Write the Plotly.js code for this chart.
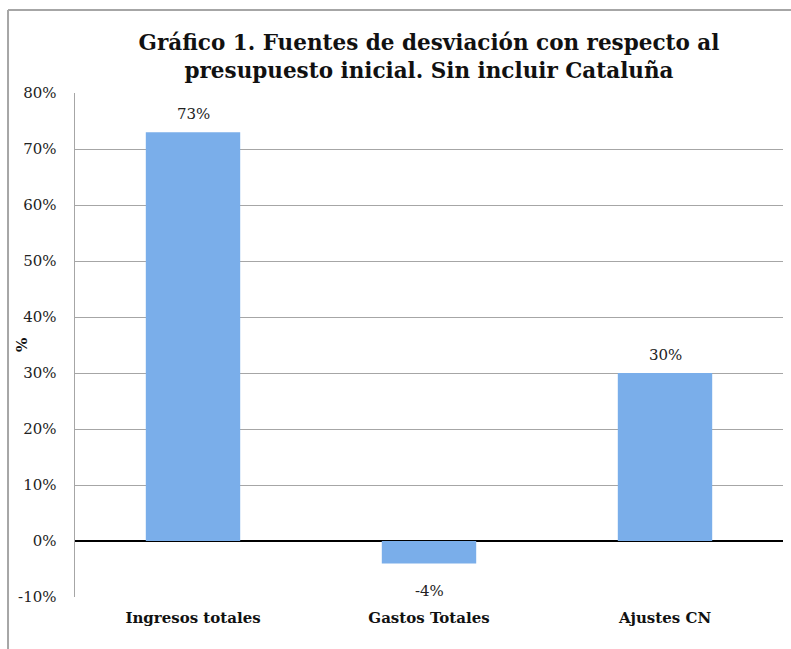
<!DOCTYPE html>
<html>
<head>
<meta charset="utf-8">
<script src="https://cdn.plot.ly/plotly-3.0.1.min.js"></script>
<style>
html,body{margin:0;padding:0;background:#fff;}
#chart{width:791px;height:649px;}
</style>
</head>
<body>
<div id="chart"></div>
<script>
const categories = ["Ingresos totales", "Gastos Totales", "Ajustes CN"];
const values = [73, -4, 30];
const labels = ["73%", "-4%", "30%"];
const tickVals = [-10, 0, 10, 20, 30, 40, 50, 60, 70, 80];
const tickText = ["-10%", "0%", "10%", "20%", "30%", "40%", "50%", "60%", "70%", "80%"];

const serif = "DejaVu Serif, Liberation Serif, serif";

const trace = {
  type: "bar",
  x: categories,
  y: values,
  marker: {color: "#7aaeea", line: {width: 0}},
  width: 0.4,
  hoverinfo: "x+y"
};

const valueAnnotations = categories.map((c, i) => ({
  x: c, y: values[i], xref: "x", yref: "y",
  text: labels[i], showarrow: false,
  yanchor: values[i] >= 0 ? "bottom" : "top",
  yshift: values[i] >= 0 ? 7 : -17,
  font: {family: serif, size: 15, color: "#222"}
}));

const layout = {
  width: 791,
  height: 649,
  margin: {l: 75, r: 8, t: 93, b: 52},
  paper_bgcolor: "#fff",
  plot_bgcolor: "#fff",
  showlegend: false,
  title: {
    text: "<b>Gráfico 1. Fuentes de desviación con respecto al<br>presupuesto inicial. Sin incluir Cataluña</b>",
    font: {family: serif, size: 21.5, color: "#111"},
    x: 0.5, xref: "paper", xanchor: "center",
    y: 0.923, yref: "container", yanchor: "top"
  },
  xaxis: {
    type: "category",
    showgrid: false,
    zeroline: false,
    showline: false,
    ticks: "",
    tickfont: {family: serif, size: 15, color: "#111", weight: "bold"},
    ticklabelstandoff: 10
  },
  yaxis: {
    range: [-10, 80],
    tickvals: tickVals,
    ticktext: tickText,
    tickfont: {family: serif, size: 15, color: "#222"},
    showgrid: true,
    gridcolor: "#a6a6a6",
    gridwidth: 1,
    zeroline: true,
    zerolinecolor: "#000",
    zerolinewidth: 1.5,
    showline: true,
    linecolor: "#a6a6a6",
    linewidth: 1.5,
    ticks: "",
    ticklabelstandoff: 14
  },
  annotations: valueAnnotations.concat([
    {text: "<b>%</b>", xref: "paper", yref: "paper", x: -0.075, y: 0.5, xanchor: "center", yanchor: "middle",
     textangle: -90, showarrow: false, font: {family: serif, size: 15, color: "#111"}}
  ]),
  shapes: [
    {type: "line", xref: "paper", yref: "paper", x0: -0.0946, x1: 1.05, y0: 1.1647, y1: 1.1647, line: {color: "#a6a6a6", width: 2}},
    {type: "line", xref: "paper", yref: "paper", x0: -0.0946, x1: -0.0946, y0: 1.1647, y1: -0.2, line: {color: "#a6a6a6", width: 2}}
  ]
};

Plotly.newPlot("chart", [trace], layout, {displayModeBar: false, staticPlot: true});
</script>
</body>
</html>
